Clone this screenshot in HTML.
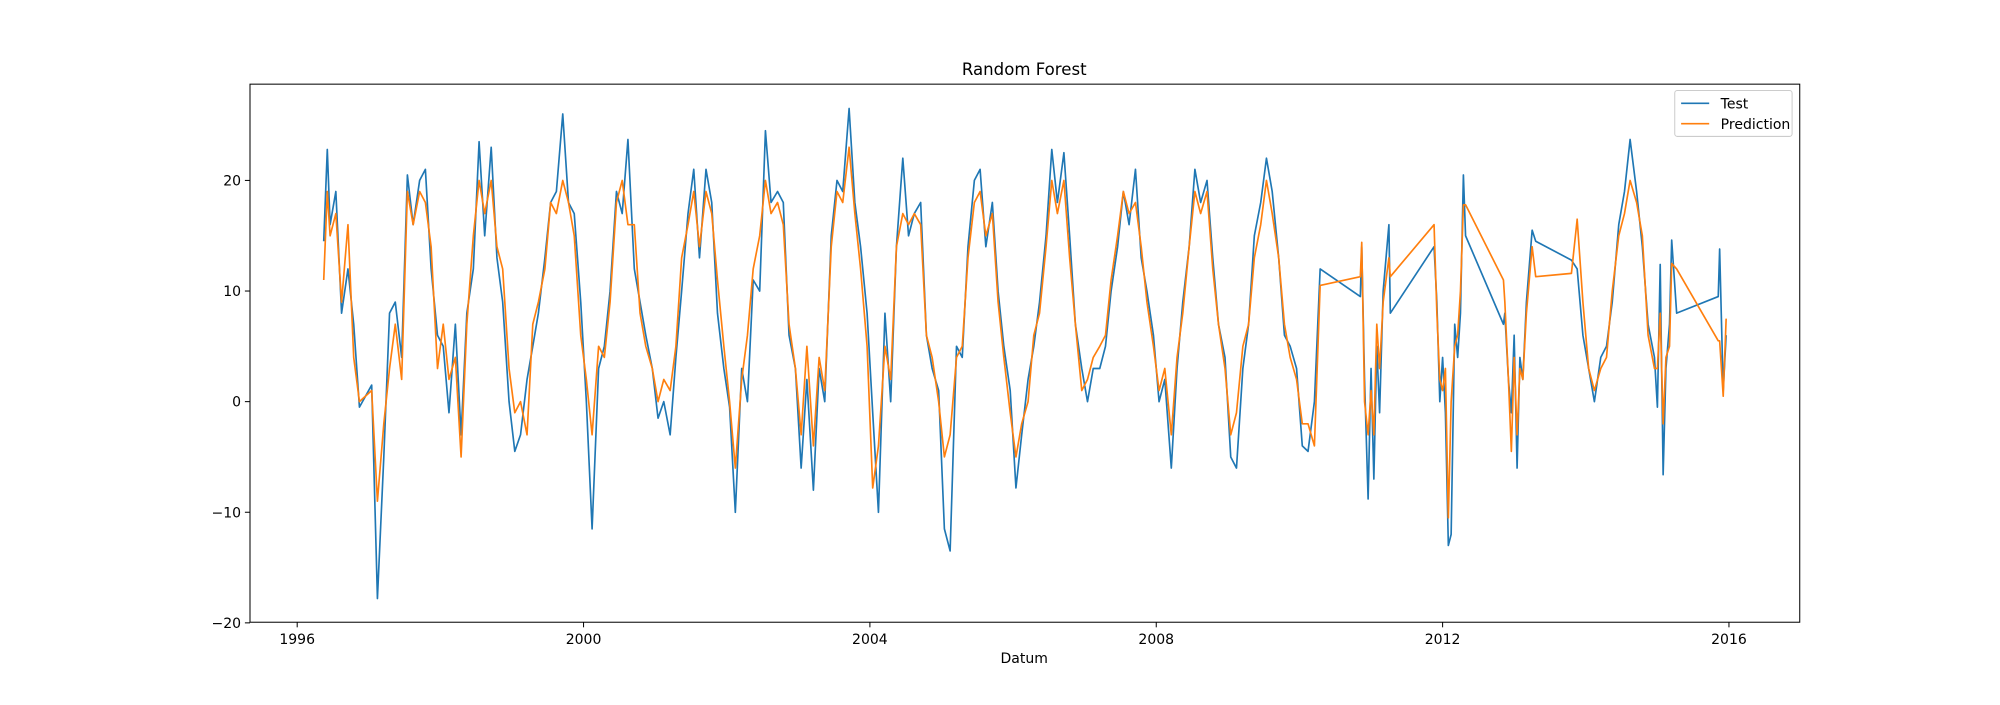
<!DOCTYPE html>
<html><head><meta charset="utf-8"><style>
body{margin:0;background:#fff;}
svg text{font-family:"DejaVu Sans","Liberation Sans",sans-serif;font-size:13px;fill:#000;}
</style></head><body>
<svg id="chart" width="2000" height="700" viewBox="0 0 1568 549" preserveAspectRatio="none" xmlns="http://www.w3.org/2000/svg">
<rect width="1568" height="549" fill="#fff"/>
<g id="plot"></g>
</svg>
<script>
const dates = [
1996.37,1996.42,1996.46,1996.54,1996.62,1996.71,1996.79,1996.87,
1997.04,1997.12,1997.21,1997.29,1997.37,1997.46,1997.54,1997.62,1997.71,1997.79,1997.87,1997.96,
1998.04,1998.12,1998.21,1998.29,1998.37,1998.46,1998.54,1998.62,1998.71,1998.79,1998.87,1998.96,
1999.04,1999.12,1999.21,1999.29,1999.37,1999.46,1999.54,1999.62,1999.71,1999.79,1999.87,1999.96,
2000.04,2000.12,2000.21,2000.29,2000.37,2000.46,2000.54,2000.62,2000.71,2000.79,2000.87,2000.96,
2001.04,2001.12,2001.21,2001.29,2001.37,2001.46,2001.54,2001.62,2001.71,2001.79,2001.87,2001.96,
2002.04,2002.12,2002.21,2002.29,2002.37,2002.46,2002.54,2002.62,2002.71,2002.79,2002.87,2002.96,
2003.04,2003.12,2003.21,2003.29,2003.37,2003.46,2003.54,2003.62,2003.71,2003.79,2003.87,2003.96,
2004.04,2004.12,2004.21,2004.29,2004.37,2004.46,2004.54,2004.62,2004.71,2004.79,2004.87,2004.96,
2005.04,2005.12,2005.21,2005.29,2005.37,2005.46,2005.54,2005.62,2005.71,2005.79,2005.87,2005.96,
2006.04,2006.12,2006.21,2006.29,2006.37,2006.46,2006.54,2006.62,2006.71,2006.79,2006.87,2006.96,
2007.04,2007.12,2007.21,2007.29,2007.37,2007.46,2007.54,2007.62,2007.71,2007.79,2007.87,2007.96,
2008.04,2008.12,2008.21,2008.29,2008.37,2008.46,2008.54,2008.62,2008.71,2008.79,2008.87,2008.96,
2009.04,2009.12,2009.21,2009.29,2009.37,2009.46,2009.54,2009.62,2009.71,2009.79,2009.87,2009.96,
2010.04,2010.12,2010.21,2010.29,2010.85,
2010.87,2010.91,2010.96,2011.0,2011.04,2011.08,2011.12,2011.17,2011.25,2011.27,2011.88,
2011.92,2011.96,2012.0,2012.04,2012.08,2012.12,2012.17,2012.21,2012.25,2012.29,2012.32,2012.85,
2012.87,2012.92,2012.96,2013.0,2013.04,2013.08,2013.12,2013.17,2013.25,2013.3,2013.8,
2013.88,2013.96,
2014.04,2014.12,2014.21,2014.29,2014.37,2014.46,2014.54,2014.62,2014.71,2014.79,2014.87,2014.96,
2015.0,2015.04,2015.08,2015.12,2015.17,2015.2,2015.27,2015.85,
2015.87,2015.92,2015.96
];
const testValues = [
14.5,22.8,16,19,8,12,7,-0.5,
1.5,-17.8,-5,8,9,4,20.5,16,20,21,12,6,
5,-1,7,-3,8,12,23.5,15,23,13,9,0,
-4.5,-3,2,5,8,13,18,19,26,18,17,9,
0,-11.5,3,5,10,19,17,23.7,12,9,6,3,
-1.5,0,-3,4,10,17,21,13,21,18,8,3,
-0.5,-10,3,0,11,10,24.5,18,19,18,6,3,
-6,2,-8,3,0,15,20,19,26.5,18,14,8,
-1,-10,8,0,14,22,15,17,18,6,3,1,
-11.5,-13.5,5,4,14,20,21,14,18,10,5,1,
-7.8,-3,2,5,9,15,22.8,18,22.5,15,7,3,
0,3,3,5,10,14,19,16,21,13,10,6,
0,2,-6,3,9,14,21,18,20,13,7,4,
-5,-6,3,7,15,18,22,19,13,6,5,3,
-4,-4.5,0,12,9.5,
14,2,-8.8,3,-7,5,-1,10,16,8,14,
9,0,4,-1,-13,-12,7,4,8,20.5,15,7,
8,2,-1,6,-6,4,2,9,15.5,14.5,12.8,
12,6,
3,0,4,5,9,16,19,23.7,19,14,7,4,
-0.5,12.4,-6.6,3,7,14.6,8,9.5,
13.8,1,6
];
const predValues = [
11,19,15,17,9,16,4,0,
1,-9,-2,3,7,2,19,16,19,18,14,3,
7,2,4,-5,7,15,20,17,20,14,12,3,
-1,0,-3,7,9,12,18,17,20,18,15,6,
2,-3,5,4,9,18,20,16,16,8,5,3,
0,2,1,5,13,16,19,14,19,17,11,5,
0,-6,2,6,12,15,20,17,18,16,7,3,
-3,5,-4,4,1,14,19,18,23,17,12,5,
-7.8,-4,5,2,14,17,16,17,16,6,4,0,
-5,-3,4,5,13,18,19,15,17,9,4,-1,
-5,-2,0,6,8,14,20,17,20,13,7,1,
2,4,5,6,11,15,19,17,18,14,9,5,
1,3,-3,4,8,14,19,17,19,12,7,3,
-3,-1,5,7,13,16,20,17,13,7,4,2,
-2,-2,-4,10.5,11.3,
14.4,0,-3,1,-3,7,3,9,13,11.3,16,
8,2,1,3,-10.5,0,5,6,10,17.8,17.8,11,
9,2,-4.5,4,-3,3,2,8,14,11.3,11.6,
16.5,9,
3,1,3,4,10,15,17,20,18,15,6,3,
3,8,-2,4,5,12.5,12,5.5,
5.5,0.5,7.5
];
const xTicks = [1996,2000,2004,2008,2012,2016];
const yTicks = [-20,-10,0,10,20];

const L=196,R=1411,T=66,B=488;
function xs(d){return 233+(d-1996)*56.125;}
function ys(v){return 315-v*8.675;}
const NS="http://www.w3.org/2000/svg";
const g=document.getElementById('plot');
function mk(t,a){const e=document.createElementNS(NS,t);for(const k in a)e.setAttribute(k,a[k]);g.appendChild(e);return e;}

function series(vals,color,name){
  const p=mk('polyline',{points:dates.map((d,i)=>xs(d).toFixed(1)+','+ys(vals[i]).toFixed(1)).join(' '),fill:'none',stroke:color,'stroke-width':1.3,'stroke-linejoin':'round'});
  
  
}
series(testValues,'#1f77b4','test-line');
series(predValues,'#ff7f0e','prediction-line');

const frame=mk('rect',{x:L,y:T,width:R-L,height:B-T,fill:'none',stroke:'#000','stroke-width':0.8});



xTicks.forEach(t=>{
  const x=xs(t);
  const tk=mk('line',{x1:x,x2:x,y1:B,y2:B+4,stroke:'#000','stroke-width':0.8});
  
  
  const tx=mk('text',{x:x,y:B+17,'text-anchor':'middle',style:'font-size:11px'});tx.textContent=t;
  
  
});
yTicks.forEach(t=>{
  const y=ys(t);
  const tk=mk('line',{x1:L-4,x2:L,y1:y,y2:y,stroke:'#000','stroke-width':0.8});
  
  
  const tx=mk('text',{x:L-7,y:y+4,'text-anchor':'end',style:'font-size:11px'});tx.textContent=t<0?'\u2212'+(-t):t;
  
  
});
const title=mk('text',{x:803,y:59,'text-anchor':'middle',style:'font-size:13px'});title.textContent='Random Forest';


const xl=mk('text',{x:803,y:520,'text-anchor':'middle',style:'font-size:11px'});xl.textContent='Datum';



const lg=mk('rect',{x:1313,y:71,width:92,height:36,rx:2,fill:'#fff','fill-opacity':0.8,stroke:'#ccc','stroke-width':0.8});


[['Test','#1f77b4',81],['Prediction','#ff7f0e',97]].forEach(([n,c,y])=>{
  const l=mk('line',{x1:1318,x2:1340,y1:y,y2:y,stroke:c,'stroke-width':1.3});
  
  
  const t=mk('text',{x:1349,y:y+4,style:'font-size:11px'});t.textContent=n;
  
  
});
</script>
</body></html>
